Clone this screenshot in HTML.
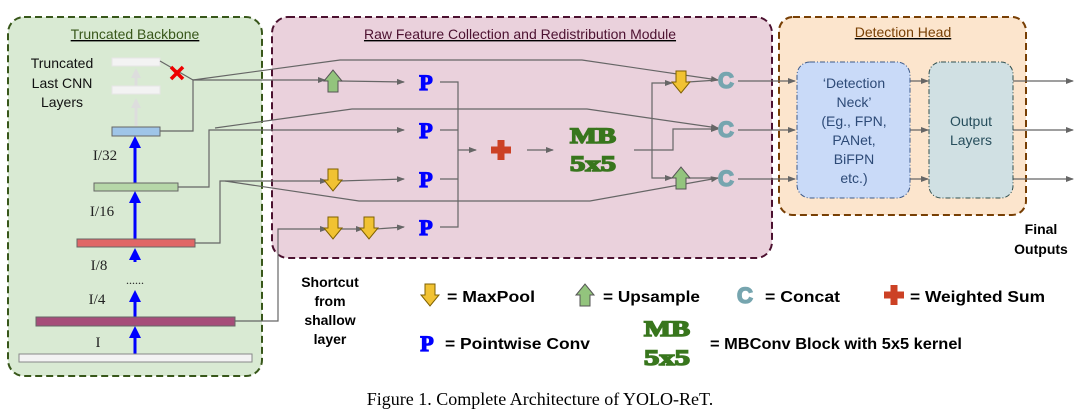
<!DOCTYPE html>
<html><head><meta charset="utf-8"><style>
html,body{margin:0;padding:0;background:#fff;}
svg{display:block;font-family:"Liberation Sans",sans-serif;}
</style></head><body>
<svg width="1080" height="417" viewBox="0 0 1080 417" xmlns="http://www.w3.org/2000/svg">
<defs>
<marker id="a" markerWidth="8" markerHeight="8" refX="7" refY="4" orient="auto" markerUnits="userSpaceOnUse"><path d="M0,1 L8,4 L0,7 z" fill="#666"/></marker>
<g id="dn"><polygon points="-5,0 5,0 5,11 9,11 0,22 -9,11 -5,11" fill="#f1c232" stroke="#7f6000" stroke-width="1"/></g>
<g id="up"><polygon points="-5,22 5,22 5,11 9,11 0,0 -9,11 -5,11" fill="#93c47d" stroke="#555" stroke-width="1"/></g>
<g id="pl"><rect x="-3.5" y="-10" width="7" height="20" fill="#cc4125"/><rect x="-10" y="-3.5" width="20" height="7" fill="#cc4125"/></g>
</defs>
<rect x="8" y="17" width="254" height="359" rx="16" fill="#d9ead3" stroke="#38571a" stroke-width="2" stroke-dasharray="7,4"/>
<rect x="272" y="17" width="500" height="241" rx="16" fill="#ead1dc" stroke="#4c1130" stroke-width="2" stroke-dasharray="7,4"/>
<rect x="779" y="17" width="247" height="198" rx="14" fill="#fce5cd" stroke="#783f04" stroke-width="2" stroke-dasharray="7,4"/>
<g font-size="14" text-anchor="middle" text-decoration="underline">
<text x="135" y="39" fill="#38571a">Truncated Backbone</text>
<text x="520" y="39" fill="#4c1130">Raw Feature Collection and Redistribution Module</text>
<text x="903" y="37" fill="#783f04">Detection Head</text>
</g>
<g font-size="14" text-anchor="middle" fill="#111">
<text x="62" y="68">Truncated</text><text x="62" y="88">Last CNN</text><text x="62" y="107">Layers</text>
</g>
<g stroke="#ddd" stroke-width="3"><line x1="136" y1="126" x2="136" y2="100"/><line x1="136" y1="86" x2="136" y2="72"/></g>
<polygon points="136,98 131,108 141,108" fill="#ddd"/><polygon points="136,68 131,78 141,78" fill="#ddd"/>
<rect x="112" y="58" width="48" height="8" fill="#f3f3f3" stroke="#e6e6e6"/>
<rect x="112" y="86" width="48" height="8" fill="#f3f3f3" stroke="#e6e6e6"/>
<g stroke="#666" stroke-width="1.2" fill="none">
<polyline points="160,61 193,80"/>
<polyline points="160,131 193,131 193,80 325,80" marker-end="url(#a)"/>
<polyline points="193,80 340,60 582,60 718,80" marker-end="url(#a)"/>
<polyline points="178,187 209,187 209,130 404,130" marker-end="url(#a)"/>
<polyline points="215,128 352,109 587,109 718,128" marker-end="url(#a)"/>
<polyline points="195,243 220,243 220,181 327,181" marker-end="url(#a)"/>
<polyline points="225,181 359,201 590,201 718,178" marker-end="url(#a)"/>
<polyline points="235,321 278,321 278,229 327,229" marker-end="url(#a)"/>
<polyline points="340,81 404,82" marker-end="url(#a)"/>
<polyline points="340,181 404,179" marker-end="url(#a)"/>
<polyline points="340,229 363,229" marker-end="url(#a)"/>
<polyline points="376,229 404,227" marker-end="url(#a)"/>
<polyline points="440,82 458,82 458,227 440,227"/>
<polyline points="440,130 458,130"/><polyline points="440,179 458,179"/>
<polyline points="458,150 476,150" marker-end="url(#a)"/>
<polyline points="527,150 553,150" marker-end="url(#a)"/>
<polyline points="634,150 673,150 673,129 718,129" marker-end="url(#a)"/>
<polyline points="652,150 652,83 672,83" marker-end="url(#a)"/>
<polyline points="652,150 652,178 672,178" marker-end="url(#a)"/>
<polyline points="688,82 718,80"/><polyline points="688,178 718,178"/>
<polyline points="738,81 795,81" marker-end="url(#a)"/>
<polyline points="738,130 795,130" marker-end="url(#a)"/>
<polyline points="738,179 795,179" marker-end="url(#a)"/>
<polyline points="910,81 928,81" marker-end="url(#a)"/>
<polyline points="910,130 928,130" marker-end="url(#a)"/>
<polyline points="910,179 928,179" marker-end="url(#a)"/>
<polyline points="1013,81 1073,81" marker-end="url(#a)"/>
<polyline points="1013,130 1073,130" marker-end="url(#a)"/>
<polyline points="1013,179 1073,179" marker-end="url(#a)"/>
</g>
<g stroke="#e00" stroke-width="3.5"><line x1="171" y1="67" x2="183" y2="79"/><line x1="183" y1="67" x2="171" y2="79"/></g>
<g stroke="#0000ff" stroke-width="3">
<line x1="135" y1="183" x2="135" y2="146"/><line x1="135" y1="239" x2="135" y2="202"/>
<line x1="135" y1="262" x2="135" y2="258"/><line x1="135" y1="317" x2="135" y2="302"/><line x1="135" y1="354" x2="135" y2="338"/>
</g>
<g fill="#0000ff">
<polygon points="135,136 129,148 141,148"/><polygon points="135,191 129,203 141,203"/>
<polygon points="135,248 129,260 141,260"/><polygon points="135,290 129,302 141,302"/><polygon points="135,326 129,338 141,338"/>
</g>
<rect x="112" y="127" width="48" height="9" fill="#9fc5e8" stroke="#666"/>
<rect x="94" y="183" width="84" height="8" fill="#b6d7a8" stroke="#666"/>
<rect x="77" y="239" width="118" height="8" fill="#e06666" stroke="#666"/>
<rect x="36" y="317" width="199" height="9" fill="#a64d79" stroke="#666"/>
<rect x="19" y="354" width="233" height="8" fill="#f3f3f3" stroke="#888"/>
<g font-family="Liberation Serif,serif" font-size="15" fill="#222" text-anchor="middle">
<text x="105" y="160">I/32</text><text x="102" y="216">I/16</text><text x="99" y="270">I/8</text><text x="97" y="304">I/4</text><text x="98" y="347">I</text>
<text x="135" y="284" font-size="12">......</text>
</g>
<use href="#up" x="333" y="70"/>
<use href="#dn" x="333" y="169"/>
<use href="#dn" x="333" y="217"/>
<use href="#dn" x="369" y="217"/>
<use href="#dn" x="681" y="71"/>
<use href="#up" x="681" y="167"/>
<use href="#pl" x="501" y="150"/>
<g font-family="Liberation Serif,serif" font-weight="bold" fill="#0000ff" font-size="22" text-anchor="middle" stroke="#0000ff" stroke-width="1.2">
<text x="426" y="90">P</text><text x="426" y="138">P</text><text x="426" y="187">P</text><text x="426" y="235">P</text>
</g>
<g font-family="Liberation Serif,serif" font-weight="bold" fill="#38761d" stroke="#38761d" stroke-width="1.5" font-size="22" text-anchor="middle">
<text x="593" y="143" textLength="46" lengthAdjust="spacingAndGlyphs">MB</text><text x="593" y="171" textLength="46" lengthAdjust="spacingAndGlyphs">5x5</text>
</g>
<g font-family="Liberation Sans,sans-serif" font-weight="bold" fill="#76a5af" stroke="#76a5af" stroke-width="1.5" font-size="22" text-anchor="middle">
<text x="726" y="88">C</text><text x="726" y="137">C</text><text x="726" y="186">C</text>
</g>
<rect x="797" y="62" width="113" height="136" rx="13" fill="#c9daf8" stroke="#3d5a8a" stroke-width="1" stroke-dasharray="5,2,1,2"/>
<rect x="929" y="62" width="84" height="136" rx="12" fill="#d0e0e3" stroke="#2f4f4f" stroke-width="1" stroke-dasharray="5,2,1,2"/>
<g font-size="14" fill="#2d4a77" text-anchor="middle">
<text x="854" y="88">‘Detection</text><text x="854" y="107">Neck’</text><text x="854" y="126">(Eg., FPN,</text>
<text x="854" y="145">PANet,</text><text x="854" y="164">BiFPN</text><text x="854" y="183">etc.)</text>
</g>
<g font-size="14" fill="#274e5c" text-anchor="middle"><text x="971" y="126">Output</text><text x="971" y="145">Layers</text></g>
<g font-size="14" font-weight="bold" fill="#000" text-anchor="middle">
<text x="1041" y="234">Final</text><text x="1041" y="254">Outputs</text>
<text x="330" y="287">Shortcut</text><text x="330" y="306">from</text><text x="330" y="325">shallow</text><text x="330" y="344">layer</text>
</g>
<use href="#dn" x="430" y="284"/>
<use href="#up" x="585" y="284"/>
<use href="#pl" x="894" y="295"/>
<g font-size="16" font-weight="bold" fill="#000">
<text x="447" y="302" textLength="88" lengthAdjust="spacingAndGlyphs">= MaxPool</text>
<text x="603" y="302" textLength="97" lengthAdjust="spacingAndGlyphs">= Upsample</text>
<text x="765" y="302" textLength="75" lengthAdjust="spacingAndGlyphs">= Concat</text>
<text x="910" y="302" textLength="135" lengthAdjust="spacingAndGlyphs">= Weighted Sum</text>
<text x="445" y="349" textLength="145" lengthAdjust="spacingAndGlyphs">= Pointwise Conv</text>
<text x="710" y="349" textLength="252" lengthAdjust="spacingAndGlyphs">= MBConv Block with 5x5 kernel</text>
</g>
<text x="745" y="303" font-weight="bold" fill="#76a5af" stroke="#76a5af" stroke-width="1.5" font-size="22" text-anchor="middle">C</text>
<text x="427" y="351" font-family="Liberation Serif,serif" font-weight="bold" fill="#0000ff" stroke="#0000ff" stroke-width="1.2" font-size="22" text-anchor="middle">P</text>
<g font-family="Liberation Serif,serif" font-weight="bold" fill="#38761d" stroke="#38761d" stroke-width="1.5" font-size="22" text-anchor="middle">
<text x="667" y="336" textLength="46" lengthAdjust="spacingAndGlyphs">MB</text><text x="667" y="365" textLength="46" lengthAdjust="spacingAndGlyphs">5x5</text>
</g>
<text x="540" y="405" font-family="Liberation Serif,serif" font-size="18" fill="#000" text-anchor="middle">Figure 1. Complete Architecture of YOLO-ReT.</text>
</svg>
</body></html>
